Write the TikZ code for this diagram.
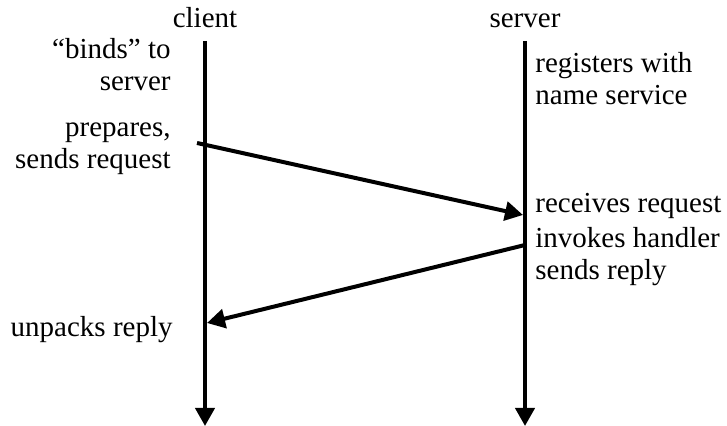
\documentclass[tikz,border=0pt]{standalone}
\usepackage{fontspec}
\setmainfont{Liberation Serif}
\usetikzlibrary{arrows.meta}

\begin{document}
\begin{tikzpicture}[x=0.5pt,y=-0.5pt,
	every node/.style={inner sep=0pt,font=\fontsize{14.5}{16.2}\selectfont},
	life/.style={line width=2pt,-{Triangle[length=9pt,width=9.5pt]}},
	msg/.style={line width=2pt,-{Triangle[length=9pt,width=9.5pt]}}]
\useasboundingbox (0,0) rectangle (727,426);
	\begin{scope}[xshift=205*0.5pt]
		\node[anchor=base] (C) at (0,28) {client};
		\coordinate (CT) at (0,41);
		\coordinate (CB) at (0,426);
		\coordinate (CS) at (-8,143);
		\coordinate (CR) at (2,323);
		\draw[life] (CT)--(CB);
		\node[anchor=base east,align=right] (CA) at (-34,91) {“binds” to\\server};
		\node[anchor=base east,align=right] (CP) at (-34,169) {prepares,\\sends request};
		\node[anchor=base east] (CU) at (-32,337) {unpacks reply};
	\end{scope}
	\begin{scope}[xshift=525*0.5pt]
		\node[anchor=base] (S) at (0,28) {server};
		\coordinate (ST) at (0,41);
		\coordinate (SB) at (0,426);
		\coordinate (SR) at (-2,215);
		\coordinate (SS) at (0,245);
		\draw[life] (ST)--(SB);
		\node[anchor=base west,align=left] (SA) at (10,105) {registers with\\name service};
		\node[anchor=base west] (SQ) at (10,213) {receives request};
		\node[anchor=base west,align=left] (SI) at (10,280) {invokes handler\\sends reply};
	\end{scope}
	%\draw[dashed] (CT)--(ST);
	\draw[msg] (CS)--(SR);
	\draw[msg] (SS)--(CR);
\end{tikzpicture}
\end{document}
